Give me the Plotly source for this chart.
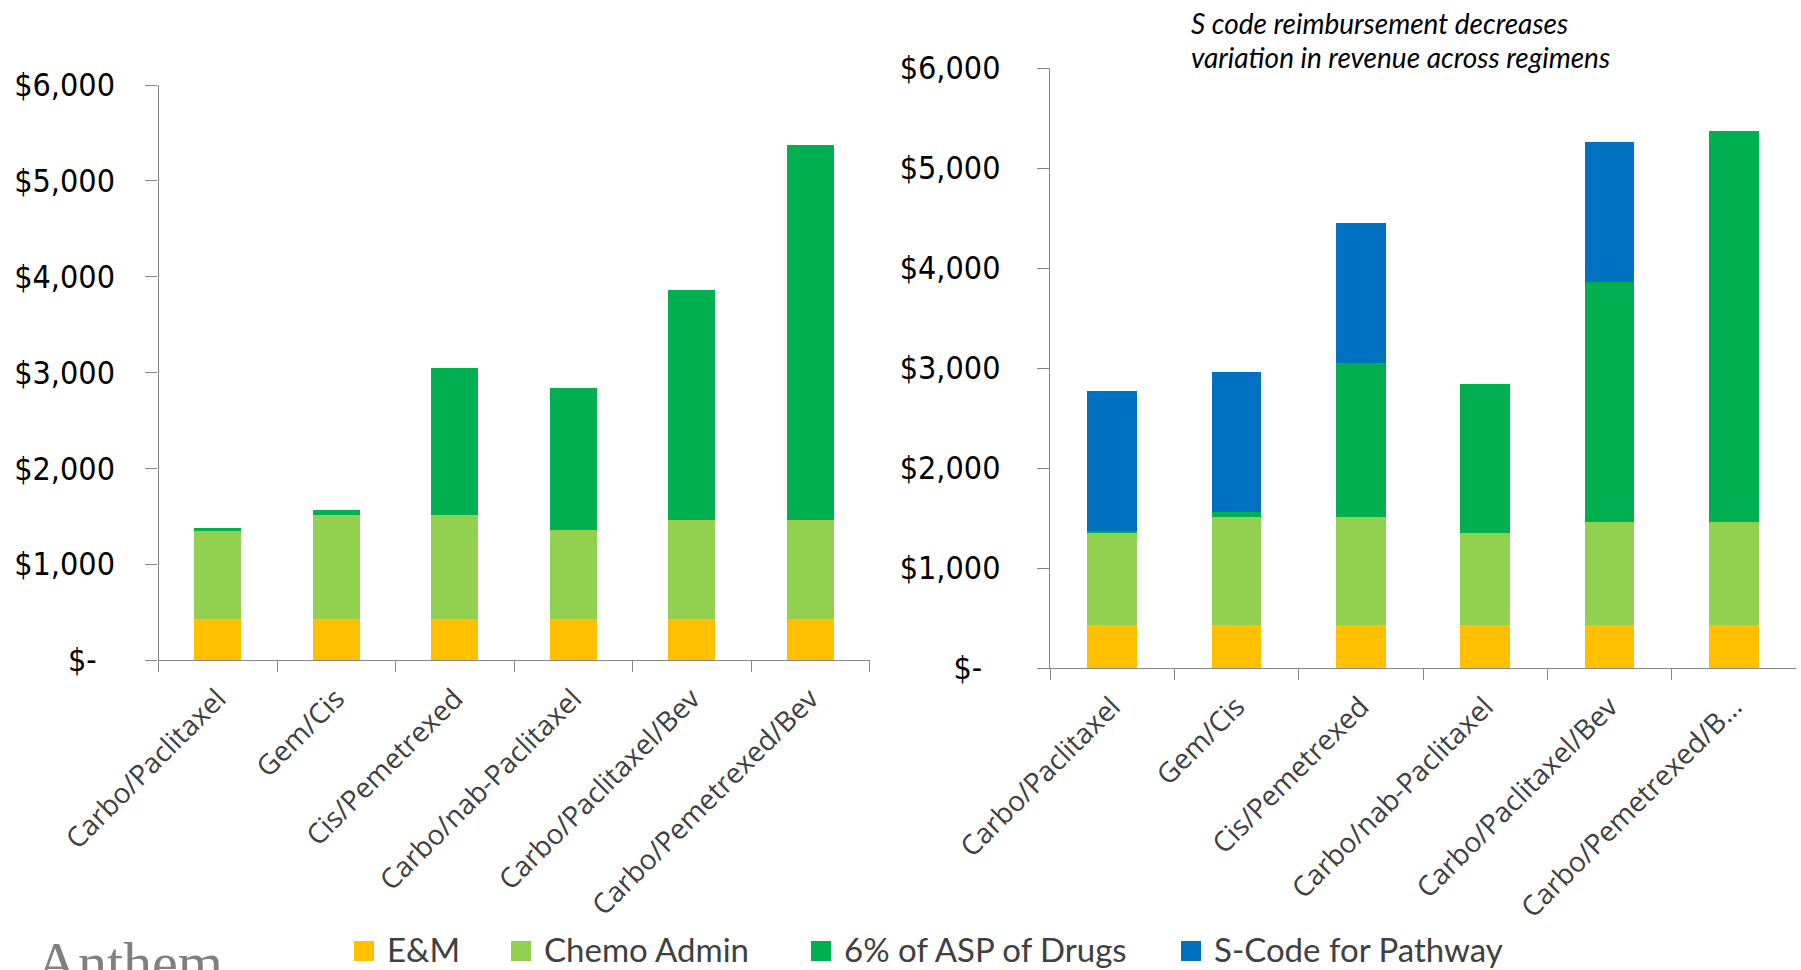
import plotly.graph_objects as go

# Regimens shown on both panels
regimens = ["Carbo/Paclitaxel", "Gem/Cis", "Cis/Pemetrexed",
            "Carbo/nab-Paclitaxel", "Carbo/Paclitaxel/Bev", "Carbo/Pemetrexed/Bev"]
right_tick_labels = ["Carbo/Paclitaxel", "Gem/Cis", "Cis/Pemetrexed",
                     "Carbo/nab-Paclitaxel", "Carbo/Paclitaxel/Bev", "Carbo/Pemetrexed/B\u2026"]

# Revenue components per regimen (USD)
em_visit = [430, 430, 430, 430, 430, 430]
chemo_admin = [925, 1080, 1080, 925, 1035, 1035]
asp_6pct = [20, 55, 1540, 1485, 2395, 3910]
s_code = [1400, 1400, 1400, 0, 1400, 0]

y_ticks = [0, 1000, 2000, 3000, 4000, 5000, 6000]
y_tick_text = ["$-\u00a0\u00a0", "$1,000", "$2,000", "$3,000", "$4,000", "$5,000", "$6,000"]

series_names = ["E&M", "Chemo Admin", "6% of ASP of Drugs", "S-Code for Pathway"]
series_colors = ["#FFC000", "#92D050", "#00B050", "#0070C0"]

note_lines = ["S code reimbursement decreases", "variation in revenue across regimens"]

W, H = 1801, 970

fig = go.Figure()

left_series = [em_visit, chemo_admin, asp_6pct]
for name, color, vals in zip(series_names[:3], series_colors[:3], left_series):
    fig.add_trace(go.Bar(x=regimens, y=vals, name=name, marker_color=color,
                         marker_line_width=0, xaxis="x", yaxis="y",
                         showlegend=False, legendgroup=name))

right_series = [em_visit, chemo_admin, asp_6pct, s_code]
for name, color, vals in zip(series_names, series_colors, right_series):
    fig.add_trace(go.Bar(x=regimens, y=vals, name=name, marker_color=color,
                         marker_line_width=0, xaxis="x2", yaxis="y2",
                         showlegend=False, legendgroup=name))

axis_gray = "#878787"
tick_font_y = dict(family="DejaVu Sans Condensed, DejaVu Sans", size=32, color="#000000")
tick_font_x = dict(family="Open Sans", size=28, color="#404040")

common_x = dict(type="category", showline=True, linecolor=axis_gray, linewidth=1.3,
                ticks="outside", tickson="boundaries", ticklen=11, tickcolor=axis_gray,
                tickwidth=1.3, tickangle=-45, tickfont=tick_font_x, showgrid=False,
                zeroline=False, fixedrange=True, automargin=False, ticklabelstandoff=10)
common_y = dict(range=[0, 6000], tickvals=y_ticks, ticktext=y_tick_text, showline=True,
                linecolor=axis_gray, linewidth=1.3, ticks="outside", ticklen=12,
                tickcolor=axis_gray, tickwidth=1.3, tickfont=tick_font_y, showgrid=False,
                zeroline=False, fixedrange=True, automargin=False)

fig.update_layout(
    width=W, height=H,
    margin=dict(l=0, r=0, t=0, b=0, autoexpand=False),
    paper_bgcolor="white", plot_bgcolor="white",
    barmode="stack", bargap=0.6,
    showlegend=False,
    xaxis=dict(domain=[158.5 / W, 869.5 / W], anchor="y", **common_x),
    yaxis=dict(domain=[1 - 660 / H, 1 - 85 / H], anchor="x", ticklabelstandoff=24, **common_y),
    xaxis2=dict(domain=[1050 / W, 1796 / W], anchor="y2", ticktext=right_tick_labels,
                tickvals=regimens, **common_x),
    yaxis2=dict(domain=[1 - 668 / H, 1 - 68 / H], anchor="x2", ticklabelstandoff=30, **common_y),
)

# Legend drawn as colour swatches with labels along the bottom
legend_swatch_x = [354, 511, 811, 1181]
legend_text_x = [385, 542, 842, 1212]
shapes = []
annotations = []
for name, color, sx, tx in zip(series_names, series_colors, legend_swatch_x, legend_text_x):
    shapes.append(dict(type="rect", xref="paper", yref="paper",
                       x0=sx / W, x1=(sx + 20) / W, y0=1 - 961 / H, y1=1 - 941 / H,
                       fillcolor=color, line_width=0))
    annotations.append(dict(text=name, xref="paper", yref="paper", x=tx / W, y=1 - 949 / H,
                            xanchor="left", yanchor="middle", showarrow=False,
                            font=dict(family="Lato", size=33, color="#404040")))

# Italic note above the right-hand panel
for line, cy in zip(note_lines, [23, 57]):
    annotations.append(dict(
        text="<i>" + line + "</i>", xref="paper", yref="paper", x=1189 / W, y=1 - cy / H,
        xanchor="left", yanchor="middle", align="left", showarrow=False,
        font=dict(family="Lato", size=28, color="#000000")))

annotations.append(dict(
    text="Anthem", xref="paper", yref="paper", x=34 / W, y=1 - 928 / H,
    xanchor="left", yanchor="top", showarrow=False,
    font=dict(family="Liberation Serif", size=58, color="#808080")))

fig.update_layout(shapes=shapes, annotations=annotations)

fig.write_html("out.html")
